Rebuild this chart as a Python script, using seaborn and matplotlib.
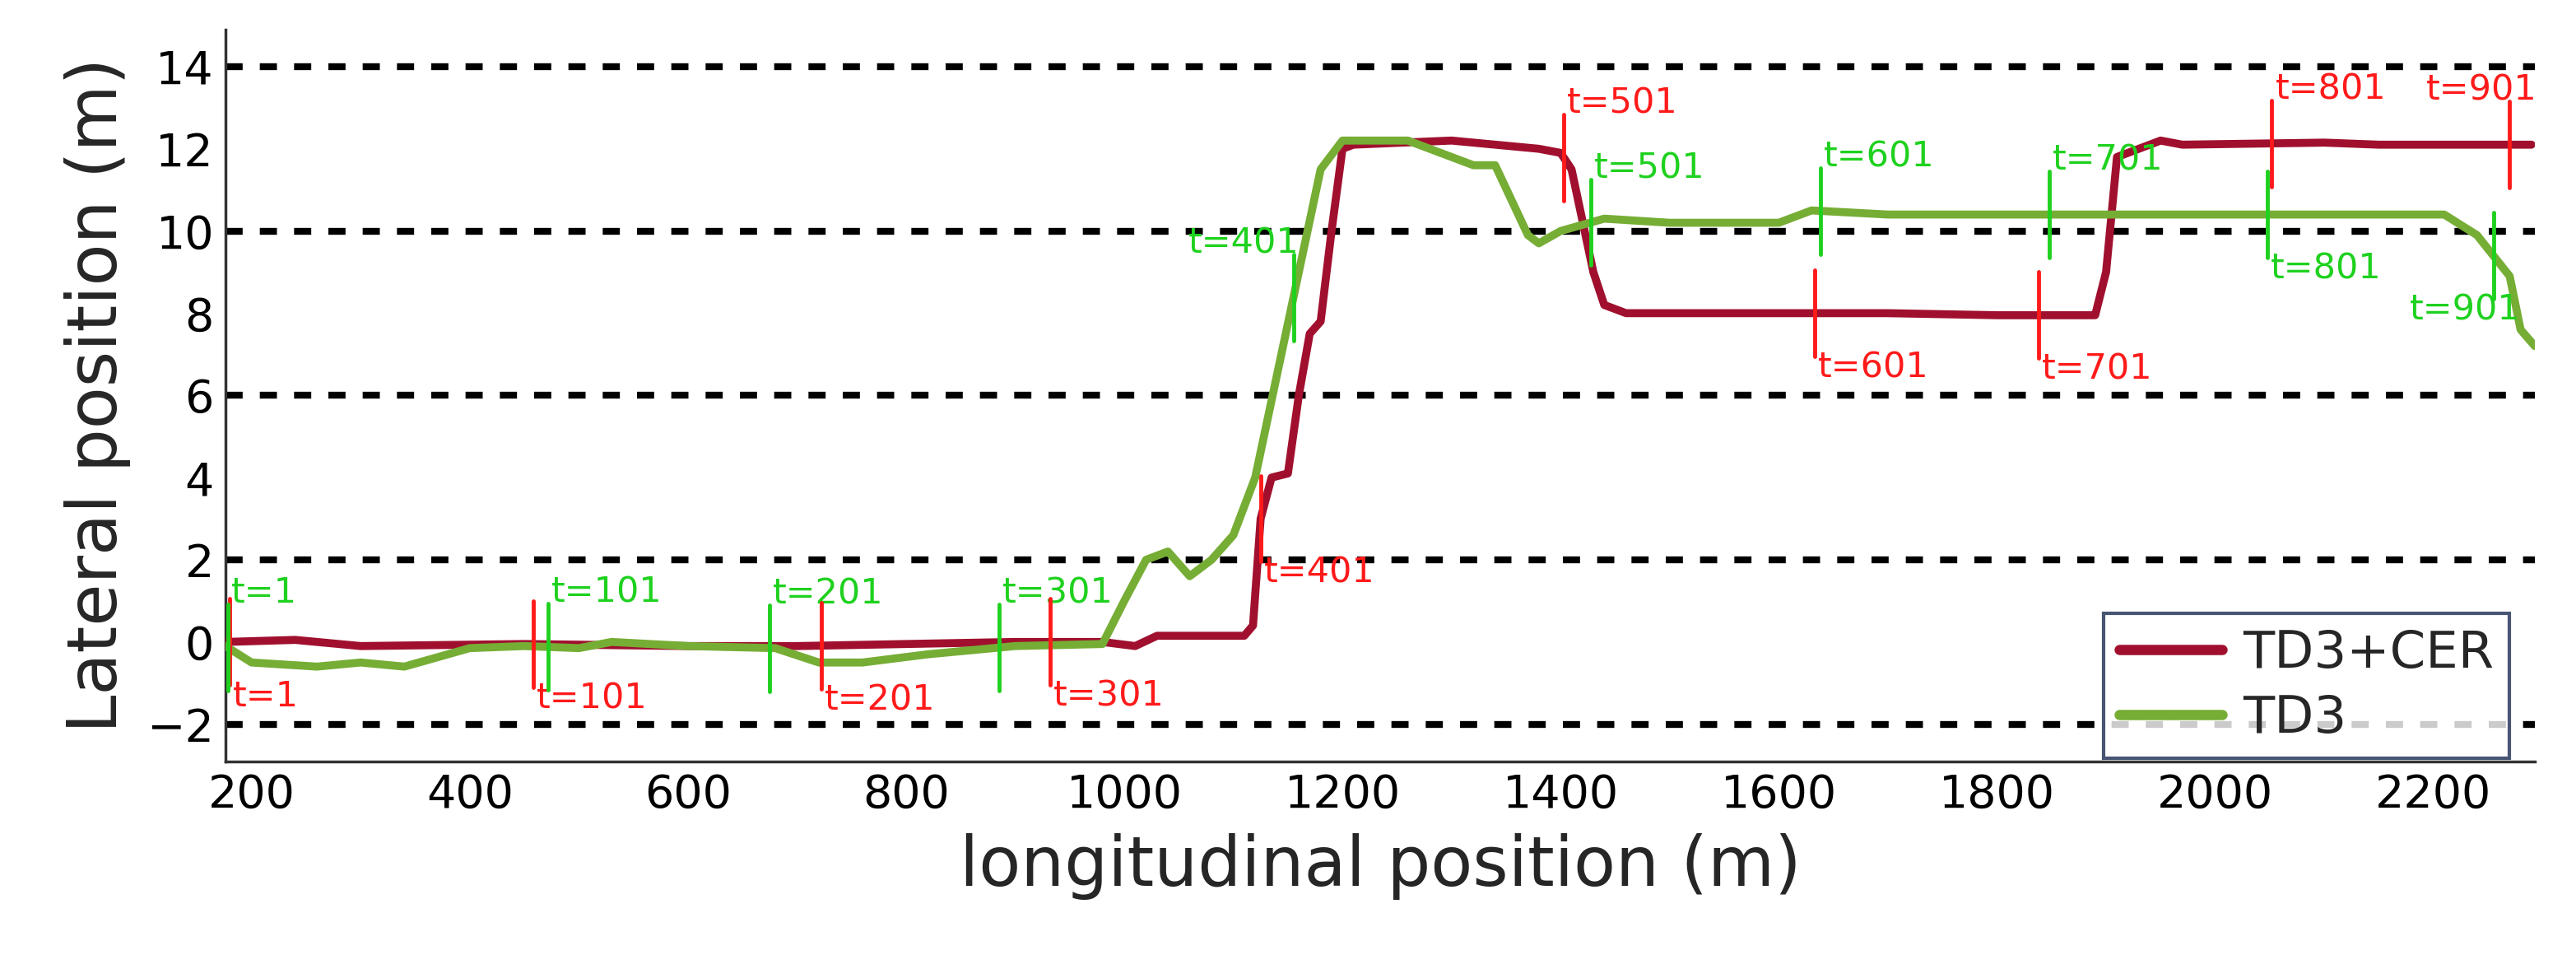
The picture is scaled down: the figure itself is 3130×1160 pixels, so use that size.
import numpy as np
import pandas as pd
import seaborn as sns
import matplotlib.pyplot as plt

# TD3+CER trajectory (longitudinal m, lateral m)
cer_x = [176, 240, 300, 450, 600, 700, 800, 900, 980, 1010, 1030, 1110, 1118, 1125, 1135, 1150,
         1160, 1170, 1180, 1190, 1200, 1210, 1300, 1340, 1380, 1400, 1410, 1430, 1440, 1460,
         1550, 1700, 1800, 1890, 1900, 1910, 1930, 1950, 1970, 2100, 2150, 2200, 2290]
cer_y = [0.0, 0.05, -0.1, -0.05, -0.1, -0.1, -0.05, 0.0, 0.0, -0.1, 0.15, 0.15, 0.4, 3.0, 4.0, 4.1,
         6.0, 7.5, 7.8, 10.0, 12.0, 12.1, 12.2, 12.1, 12.0, 11.9, 11.5, 9.0, 8.2, 8.0,
         8.0, 8.0, 7.95, 7.95, 9.0, 11.8, 12.0, 12.2, 12.1, 12.15, 12.1, 12.1, 12.1]

# TD3 trajectory
td3_x = [176, 200, 260, 300, 340, 400, 450, 500, 530, 600, 680, 720, 760, 820, 900, 980,
         1000, 1020, 1040, 1060, 1080, 1100, 1120, 1140, 1160, 1180, 1200, 1260, 1300, 1320,
         1340, 1370, 1380, 1400, 1440, 1500, 1600, 1630, 1700, 2000, 2210, 2240, 2270, 2280, 2293]
td3_y = [-0.1, -0.5, -0.6, -0.5, -0.6, -0.15, -0.1, -0.15, 0.0, -0.1, -0.15, -0.5, -0.5, -0.3, -0.1, -0.05,
         1.0, 2.0, 2.2, 1.6, 2.0, 2.6, 4.0, 6.5, 9.0, 11.5, 12.2, 12.2, 11.8, 11.6,
         11.6, 9.9, 9.7, 10.0, 10.3, 10.2, 10.2, 10.5, 10.4, 10.4, 10.4, 9.9, 8.9, 7.6, 7.2]

# time step markers
step_labels = ["t=1", "t=101", "t=201", "t=301", "t=401", "t=501", "t=601", "t=701", "t=801", "t=901"]
cer_step_x = [180, 458, 722, 932, 1125, 1403, 1633, 1838, 2052, 2270]
td3_step_x = [178, 472, 675, 885, 1155, 1428, 1638, 1848, 2048, 2255]
cer_label_side = ["below", "below", "below", "below", "below", "above", "below", "below", "above", "aboveleft"]
td3_label_side = ["above", "above", "above", "above", "left", "above", "above", "above", "below", "belowleft"]

lane_lines = [-2, 2, 6, 10, 14]

RED = "#A0102E"
GREEN = "#76AD35"

sns.set_theme(style="white")
fig = plt.figure(figsize=(31.3, 11.6), dpi=100)
ax = fig.add_axes([0.0875, 0.203, 0.8965, 0.766])

for y in lane_lines:
    ax.axhline(y, color="black", lw=6, dashes=(2.5, 2.5), zorder=1)

df = pd.concat([
    pd.DataFrame({"x": cer_x, "y": cer_y, "method": "TD3+CER"}),
    pd.DataFrame({"x": td3_x, "y": td3_y, "method": "TD3"}),
])
sns.lineplot(data=df, x="x", y="y", hue="method", sort=False, estimator=None,
             palette={"TD3+CER": RED, "TD3": GREEN}, lw=7, ax=ax, zorder=3)

FS = 31

def place(sx, xs, ys, color, sides):
    for lab, px, side in zip(step_labels, sx, sides):
        py = np.interp(px, xs, ys)
        ax.plot([px, px], [py - 1.05, py + 1.05], color=color, lw=3.5, zorder=4)
        if side == "above":
            ax.text(px + 3, py + 0.9, lab, color=color, fontsize=FS, va="bottom", ha="left")
        elif side == "aboveleft":
            ax.text(px + 25, py + 0.9, lab, color=color, fontsize=FS, va="bottom", ha="right")
        elif side == "below":
            ax.text(px + 3, py - 0.9, lab, color=color, fontsize=FS, va="top", ha="left")
        elif side == "left":
            ax.text(px + 5, py + 0.9, lab, color=color, fontsize=FS, va="bottom", ha="right")
        else:
            ax.text(px + 25, py - 0.9, lab, color=color, fontsize=FS, va="top", ha="right")

place(cer_step_x, cer_x, cer_y, "#FF1A1A", cer_label_side)
place(td3_step_x, td3_x, td3_y, "#1FD11F", td3_label_side)

ax.set_xlim(176, 2293)
ax.set_ylim(-2.9, 14.9)
ax.set_xticks(range(200, 2201, 200))
ax.set_yticks(range(-2, 15, 2))
ax.tick_params(labelsize=40, direction="in", length=8, colors="black", pad=10)
ax.set_xlabel("longitudinal position (m)", fontsize=60, labelpad=14)
ax.set_ylabel("Lateral position (m)", fontsize=60, labelpad=14)
for s in ["top", "right"]:
    ax.spines[s].set_visible(False)
for s in ["left", "bottom"]:
    ax.spines[s].set_color("#333333")
    ax.spines[s].set_linewidth(2.5)

leg = ax.legend(loc="upper right", bbox_to_anchor=(1.0, 0.237), fontsize=45,
                frameon=True, fancybox=False, handlelength=2.0, borderpad=0.3,
                handletextpad=0.4, labelspacing=0.3)
leg.get_frame().set_edgecolor("#1A2A50")
leg.get_frame().set_linewidth(3)
for h in leg.get_lines():
    h.set_linewidth(9)

fig.savefig("out.png", dpi=100)
